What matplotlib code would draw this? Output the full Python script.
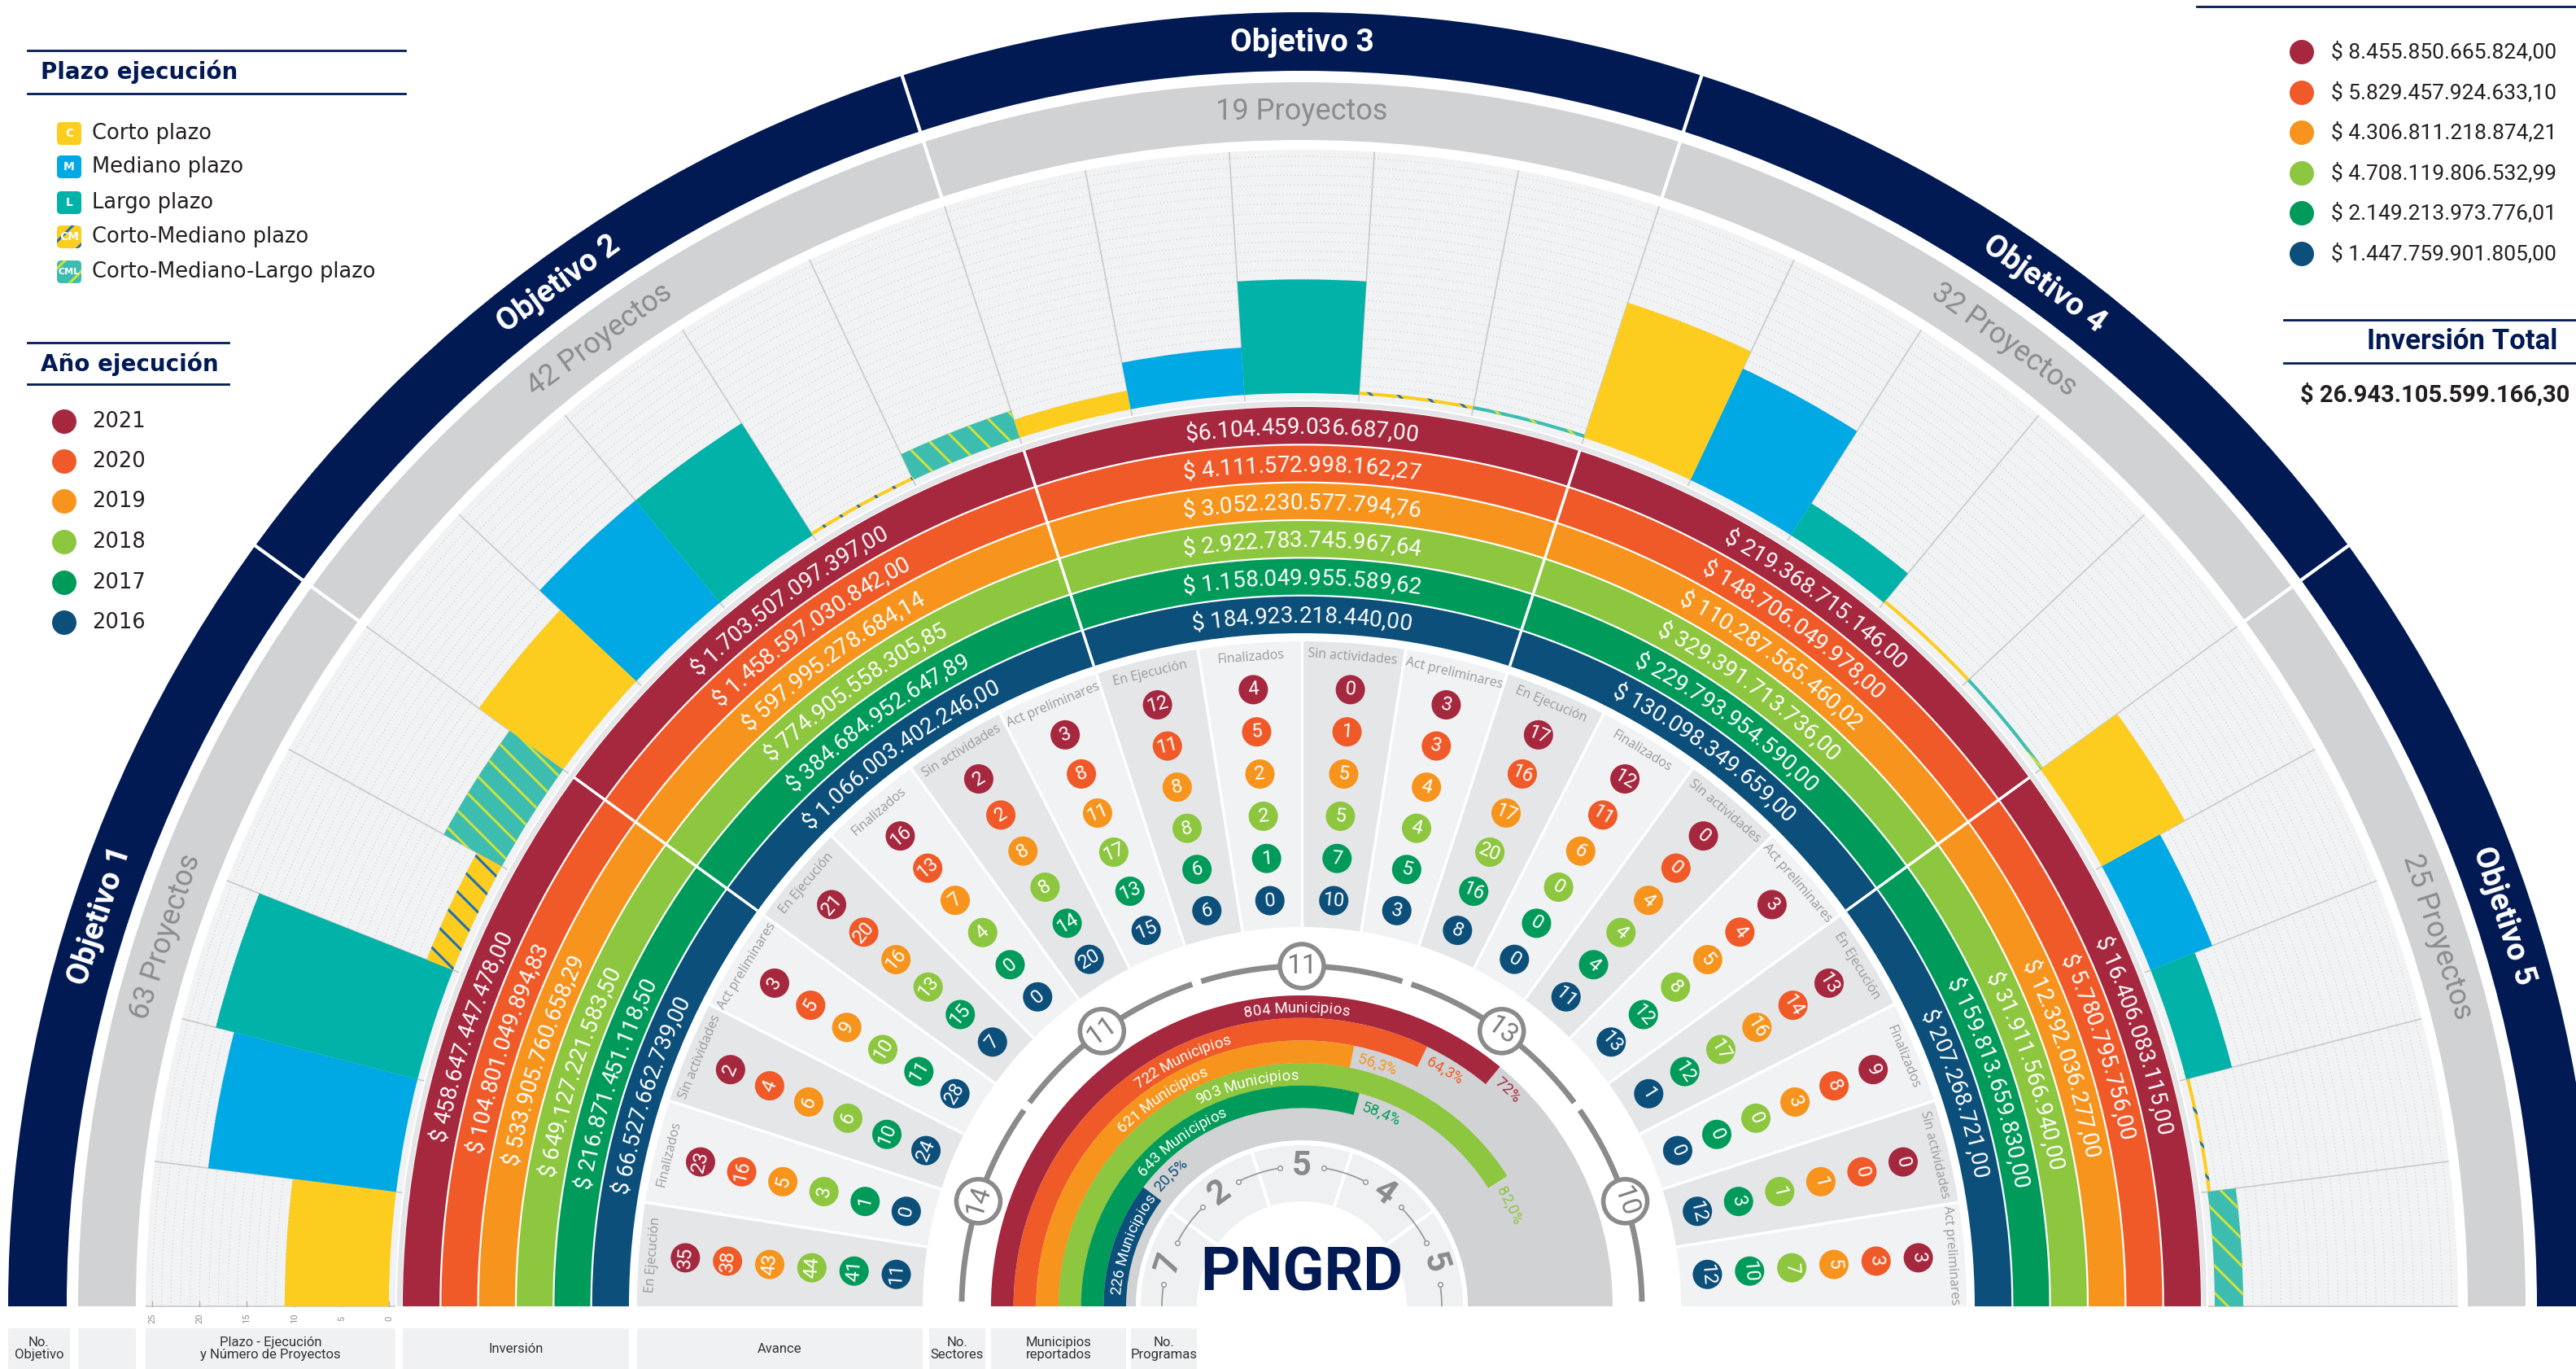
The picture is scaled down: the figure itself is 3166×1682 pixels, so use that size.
#!/usr/bin/env python3
"""PNGRD semicircular dashboard: plazo, inversion, avance, sectores, municipios, programas"""

import numpy as np
import matplotlib.pyplot as plt
from matplotlib import font_manager
from matplotlib.font_manager import FontProperties
from matplotlib.ft2font import FT2Font
from matplotlib.patches import Wedge, Circle, Rectangle, FancyBboxPatch

# ---------------- data ----------------
objetivos = ["Objetivo 1", "Objetivo 2", "Objetivo 3", "Objetivo 4", "Objetivo 5"]
proyectos = [63, 42, 19, 32, 25]

plazo_names = ["Corto plazo", "Mediano plazo", "Largo plazo",
               "Corto-Mediano plazo", "Corto-Mediano-Largo plazo"]
plazo_codes = ["C", "M", "L", "CM", "CML"]
corto = [11, 11, 2, 15, 10]
mediano = [20, 14, 5, 13, 7]
largo = [22, 14, 12, 4, 5]
corto_mediano = [3, 0, 0, 0, 0]
corto_mediano_largo = [7, 3, 0, 0, 3]
bar_ticks = [0, 5, 10, 15, 20, 25]

years = ["2021", "2020", "2019", "2018", "2017", "2016"]
inv_2021 = ["$ 458.647.447.478,00", "$ 1.703.507.097.397,00", "$6.104.459.036.687,00",
            "$ 219.368.715.146,00", "$ 16.406.083.115,00"]
inv_2020 = ["$ 104.801.049.894,83", "$ 1.458.597.030.842,00", "$ 4.111.572.998.162,27",
            "$ 148.706.049.978,00", "$ 5.780.795.756,00"]
inv_2019 = ["$ 533.905.760.658,29", "$ 597.995.278.684,14", "$ 3.052.230.577.794,76",
            "$ 110.287.565.460,02", "$ 12.392.036.277,00"]
inv_2018 = ["$ 649.127.221.583,50", "$ 774.905.558.305,85", "$ 2.922.783.745.967,64",
            "$ 329.391.713.736,00", "$ 31.911.566.940,00"]
inv_2017 = ["$ 216.871.451.118,50", "$ 384.684.952.647,89", "$ 1.158.049.955.589,62",
            "$ 229.793.954.590,00", "$ 159.813.659.830,00"]
inv_2016 = ["$ 66.527.662.739,00", "$ 1.066.003.402.246,00", "$ 184.923.218.440,00",
            "$ 130.098.349.659,00", "$ 207.268.721,00"]
inv_year_total = ["$ 8.455.850.665.824,00", "$ 5.829.457.924.633,10", "$ 4.306.811.218.874,21",
                  "$ 4.708.119.806.532,99", "$ 2.149.213.973.776,01", "$ 1.447.759.901.805,00"]
inv_total = "$ 26.943.105.599.166,30"

estados = ["En Ejecución", "Finalizados", "Sin actividades", "Act preliminares"]
# per estado, years 2021..2016
avance_obj1 = [[35, 38, 43, 44, 41, 11], [23, 16, 5, 3, 1, 0], [2, 4, 6, 6, 10, 24], [3, 5, 9, 10, 11, 28]]
avance_obj2 = [[21, 20, 16, 13, 15, 7], [16, 13, 7, 4, 0, 0], [2, 2, 8, 8, 14, 20], [3, 8, 11, 17, 13, 15]]
avance_obj3 = [[12, 11, 8, 8, 6, 6], [4, 5, 2, 2, 1, 0], [0, 1, 5, 5, 7, 10], [3, 3, 4, 4, 5, 3]]
avance_obj4 = [[17, 16, 17, 20, 16, 8], [12, 11, 6, 0, 0, 0], [0, 0, 4, 4, 4, 11], [3, 4, 5, 8, 12, 13]]
avance_obj5 = [[13, 14, 16, 17, 12, 1], [9, 8, 3, 0, 0, 0], [0, 0, 1, 1, 3, 12], [3, 3, 5, 7, 10, 12]]

sectores = [14, 11, 11, 13, 10]
municipios = [804, 722, 621, 903, 643, 226]
municipios_pct = ["72%", "64,3%", "56,3%", "82,0%", "58,4%", "20,5%"]
municipios_frac = [72.0, 64.3, 56.3, 82.0, 58.4, 20.5]
programas = [7, 2, 5, 4, 5]

col_labels = ["No.\nObjetivo", "", "Plazo - Ejecución\ny Número de Proyectos", "Inversión",
              "Avance", "No.\nSectores", "Municipios\nreportados", "No.\nProgramas"]

# ---------------- style ----------------
NAVY = '#021a54'
GRAY_BAND = '#d1d2d4'
YEAR_COLORS = ['#a6283f', '#f05a28', '#f7941d', '#8dc63f', '#009b5a', '#0b4f7a']
YELLOW, BLUE, TEAL = '#fccd1f', '#00a9e3', '#00b2a8'
PLAZO_STYLE = [(YELLOW, None, YELLOW), (BLUE, None, BLUE), (TEAL, None, TEAL),
               (YELLOW, '\\', '#1f6fb5'), ('#3dbdb0', '\\', '#cfe03a')]

installed = {f.name for f in font_manager.fontManager.ttflist}
NARROW = 'Liberation Sans Narrow' if 'Liberation Sans Narrow' in installed else 'Roboto'
plt.rcParams['hatch.linewidth'] = 2.2

W, H = 3166, 1682
CX, CY = 1600, H - 1605

fig = plt.figure(figsize=(W / 100, H / 100), dpi=100)
ax = fig.add_axes([0, 0, 1, 1])
ax.set_xlim(0, W)
ax.set_ylim(0, H)
ax.axis('off')


def P(r, th):
    t = np.radians(th)
    return CX + r * np.cos(t), CY + r * np.sin(t)


def wedge(r_out, r_in, t1, t2, fc, z=1, hatch=None, ec='none'):
    ax.add_patch(Wedge((CX, CY), r_out, t1, t2, width=r_out - r_in, facecolor=fc,
                       edgecolor=ec, lw=0, hatch=hatch, zorder=z))


def radial(r1, r2, th, color, lw, z):
    x1, y1 = P(r1, th)
    x2, y2 = P(r2, th)
    ax.plot([x1, x2], [y1, y2], color=color, lw=lw, zorder=z, solid_capstyle='butt')


def arc(r, t1, t2, color, lw, z, ls='-'):
    x, y = P(r, np.linspace(t1, t2, 300))
    ax.plot(x, y, color=color, lw=lw, ls=ls, zorder=z, solid_capstyle='butt')


def tan_text(r, th, s, size, color, weight='normal', family=None, z=10):
    x, y = P(r, th)
    ax.text(x, y, s, rotation=th - 90, rotation_mode='anchor', ha='center', va='center',
            fontsize=size, color=color, fontweight=weight, family=family or NARROW, zorder=z)


def advances(s, prop):
    font = FT2Font(font_manager.findfont(prop))
    font.set_size(prop.get_size_in_points(), 100)
    return [font.load_char(ord(c)).linearHoriAdvance / 65536 for c in s]


def arc_text(r, th, s, size, color, weight='normal', family=NARROW, z=10):
    # text bent along the circle, read clockwise
    prop = FontProperties(family=family, size=size, weight=weight)
    pos = np.concatenate([[0], np.cumsum(advances(s, prop))])
    total = pos[-1]
    rb = r - size * 100 / 72 * 0.36
    for i, c in enumerate(s):
        if c == ' ':
            continue
        d = (pos[i] + pos[i + 1]) / 2 - total / 2
        a = th - np.degrees(d / rb)
        x, y = P(rb, a)
        ax.text(x, y, c, rotation=a - 90, rotation_mode='anchor', ha='center', va='baseline',
                fontproperties=prop, color=color, zorder=z)


# ---------------- outer bands ----------------
wedge(1590, 1518, 0, 180, NAVY)
wedge(1504, 1433, 0, 180, GRAY_BAND)
for k in range(1, 5):
    radial(1425, 1600, 36 * k, 'white', 3, 4)
for k in range(5):
    tm = 162 - 36 * k
    tan_text(1553, tm, objetivos[k], 28, 'white', weight='bold')
    tan_text(1468, tm, f"{proyectos[k]} Proyectos", 26, '#8c8c8c')

# ---------------- bars (plazo) ----------------
R0, UNIT = 1122, 11.64
wedge(1421, 1114, 0, 180, '#f1f2f4')
wedge(1112, 1106, 0, 180, '#e4e5e7')
for u in range(1, 26):
    arc(R0 + u * UNIT, 0, 180, '#cbcccf', 0.8, 2, ls=(0, (1, 3)))
for i in range(26):
    radial(1114, 1421, 7.2 * i, '#c9cacc', 1.2, 2)

series = [corto, mediano, largo, corto_mediano, corto_mediano_largo]
for k in range(5):
    for j, vals in enumerate(series):
        t_hi = 180 - 36 * k - 7.2 * j
        fc, hatch, hc = PLAZO_STYLE[j]
        v = max(vals[k], 0.35)
        wedge(R0 + v * UNIT, R0, t_hi - 7.2, t_hi, fc, z=3, hatch=hatch, ec=hc)

for t in bar_ticks:
    x = CX - (R0 + t * UNIT)
    ax.text(x, H - 1620, str(t), rotation=90, ha='center', va='center',
            fontsize=8, color='#8c8c8c', family=NARROW)
    ax.plot([x, x], [H - 1605, H - 1599], color='#b0b0b0', lw=1)

# ---------------- investment rings ----------------
inv_rows = [inv_2021, inv_2020, inv_2019, inv_2018, inv_2017, inv_2016]
RW = (1105 - 827) / 6
for i, row in enumerate(inv_rows):
    r_out = 1105 - i * RW
    wedge(r_out, r_out - RW, 0, 180, YEAR_COLORS[i], z=2)
    if i:
        arc(r_out, 0, 180, 'white', 1.6, 3)
    for k in range(5):
        arc_text(r_out - RW / 2, 162 - 36 * k, row[k], 20, 'white')
for k in range(1, 5):
    radial(827, 1106, 36 * k, 'white', 2.5, 4)

# ---------------- avance ----------------
avance = [avance_obj1, avance_obj2, avance_obj3, avance_obj4, avance_obj5]
for k in range(5):
    for j in range(4):
        t_hi = 180 - 36 * k - 9 * j
        tm = t_hi - 4.5
        wedge(817, 466, t_hi - 9, t_hi, ['#e5e6e8', '#f1f2f3'][j % 2], z=1)
        tan_text(800, tm, estados[j], 11.5, '#9a9a9a', family='Open Sans')
        for y in range(6):
            x0, y0 = P(760 - 52 * y, tm)
            ax.add_patch(Circle((x0, y0), 18, facecolor=YEAR_COLORS[y], edgecolor='none', zorder=5))
            ax.text(x0, y0, str(avance[k][j][y]), rotation=tm - 90, rotation_mode='anchor',
                    ha='center', va='center', fontsize=17, color='white', family=NARROW, zorder=6)
for i in range(1, 20):
    radial(466, 818, 9 * i, 'white', 2.5, 3)

# ---------------- sectores ----------------
for k in range(5):
    arc(418, 36 * k + 0.8, 36 * (k + 1) - 0.8, '#8b8b8b', 5, 3)
    tm = 162 - 36 * k
    x0, y0 = P(418, tm)
    ax.add_patch(Circle((x0, y0), 27, facecolor='white', edgecolor='#8b8b8b', lw=4, zorder=5))
    ax.text(x0, y0, str(sectores[k]), rotation=tm - 90, rotation_mode='anchor', ha='center',
            va='center', fontsize=24, color='#7d7d7d', family=NARROW, zorder=6)

# ---------------- municipios ----------------
MW = (382 - 216) / 6
mun_label_angle = [91, 116, 124, 104, 126, 160]
wedge(382, 204, 0, 180, GRAY_BAND, z=1)
for i in range(6):
    r_out = 382 - i * MW
    t_end = 180 - municipios_frac[i] * 1.8
    wedge(r_out, r_out - MW, t_end, 180, YEAR_COLORS[i], z=2)
    rm = r_out - MW / 2
    arc_text(rm, mun_label_angle[i], f"{municipios[i]} Municipios", 13.5, 'white')
    lab = municipios_pct[i]
    half = sum(advances(lab, FontProperties(family=NARROW, size=13.5))) / 2
    arc_text(rm, t_end - np.degrees((half + 8) / rm), lab, 13.5, YEAR_COLORS[i])

# ---------------- programas ----------------
wedge(198, 129, 0, 180, '#eef0f2', z=1)
for k in range(1, 5):
    radial(129, 199, 36 * k, 'white', 3, 3)
for k in range(6):
    lo = 0 if k == 0 else 36 * k - 18 + 9
    hi = 180 if k == 5 else 36 * k + 18 - 9
    arc(172, lo, hi, '#9b9b9b', 1.3, 3)
    for a in (lo, hi):
        if 0 < a < 180:
            x0, y0 = P(172, a)
            ax.plot(x0, y0, 'o', ms=4, mfc='white', mec='#9b9b9b', mew=1.2, zorder=4)
for k in range(5):
    tan_text(172, 162 - 36 * k, str(programas[k]), 30, '#8a8a8a', weight='bold')
ax.text(CX, H - 1586, "PNGRD", ha='center', va='baseline', fontsize=54, fontweight='bold',
        color=NAVY, family=NARROW, zorder=6)

# ---------------- left legends ----------------
for yy, x2 in [(62, 498), (115, 498), (421, 281), (472, 281)]:
    ax.plot([34, x2], [H - yy, H - yy], color=NAVY, lw=2)
ax.text(50, H - 88, "Plazo ejecución", fontsize=20, fontweight='bold', color=NAVY,
        va='center', family='DejaVu Sans')
ax.text(50, H - 447, "Año ejecución", fontsize=20, fontweight='bold', color=NAVY,
        va='center', family='DejaVu Sans')
for j, yy in enumerate([164, 205, 249, 291, 334]):
    fc, hatch, hc = PLAZO_STYLE[j]
    ax.add_patch(FancyBboxPatch((70, H - yy - 14), 30, 28, boxstyle='round,pad=0,rounding_size=5',
                                facecolor=fc, edgecolor=hc, lw=0,
                                hatch=None if hatch is None else '/'))
    ax.text(85, H - yy, plazo_codes[j], ha='center', va='center', fontsize=8 if j == 4 else 10,
            fontweight='bold', color='white', family='DejaVu Sans')
    ax.text(113, H - yy, plazo_names[j], va='center', fontsize=18.5, color='#231f20',
            family='DejaVu Sans')
for i, yy in enumerate([518, 567, 616, 666, 716, 765]):
    ax.add_patch(Circle((79, H - yy), 15, facecolor=YEAR_COLORS[i], edgecolor='none'))
    ax.text(113, H - yy, years[i], va='center', fontsize=18.5, color='#231f20', family='DejaVu Sans')

# ---------------- right legend ----------------
ax.plot([2700, 3165], [H - 8, H - 8], color=NAVY, lw=2)
for i, yy in enumerate([64, 114, 163, 213, 262, 312]):
    ax.add_patch(Circle((2829, H - yy), 15, facecolor=YEAR_COLORS[i], edgecolor='none'))
    ax.text(2865, H - yy, inv_year_total[i], va='center', fontsize=19, color='#231f20', family=NARROW)
for yy in (393, 446):
    ax.plot([2807, 3165], [H - yy, H - yy], color=NAVY, lw=2)
ax.text(3143, H - 419, "Inversión Total", ha='right', va='center', fontsize=25,
        fontweight='bold', color=NAVY, family=NARROW)
ax.text(2993, H - 485, inv_total, ha='center', va='center', fontsize=21,
        fontweight='bold', color='#231f20', family=NARROW)

# ---------------- bottom column labels ----------------
boxes = [(10, 86), (96, 167), (179, 486), (495, 773), (783, 1134), (1142, 1211), (1218, 1384), (1390, 1471)]
for (x1, x2), lab in zip(boxes, col_labels):
    ax.add_patch(Rectangle((x1, 0), x2 - x1, 50, facecolor='#f0f1f3', edgecolor='none'))
    ax.text((x1 + x2) / 2, 25, lab, ha='center', va='center', fontsize=12,
            color='#333333', family=NARROW, linespacing=1.05)

fig.savefig('out.png', dpi=100, facecolor='white')
